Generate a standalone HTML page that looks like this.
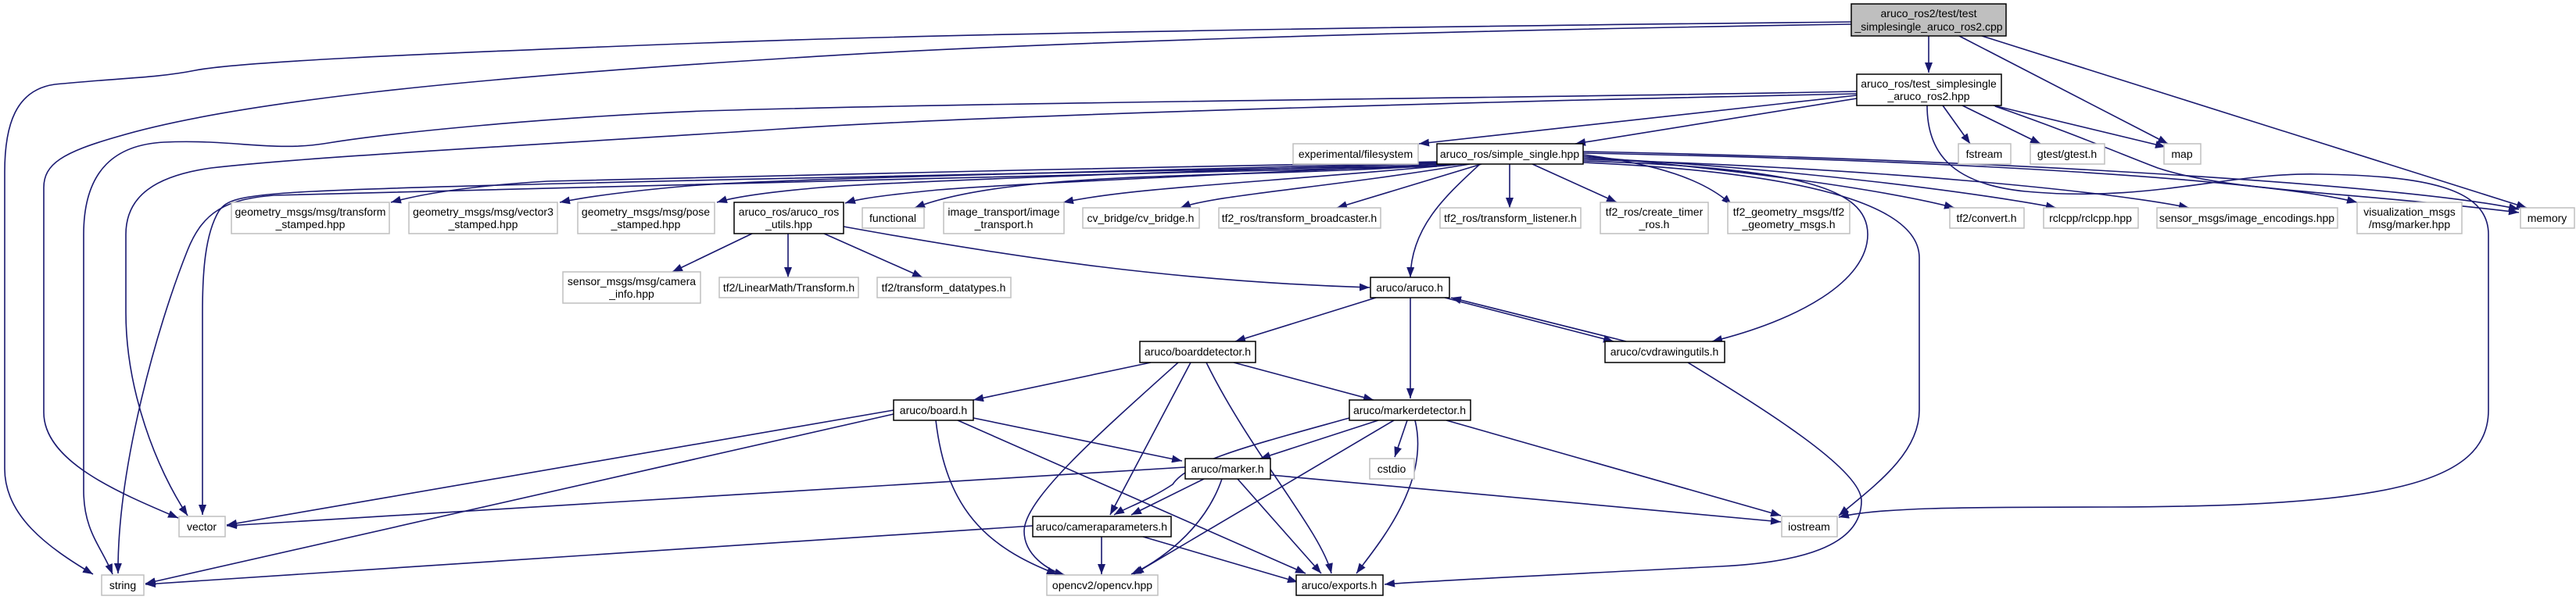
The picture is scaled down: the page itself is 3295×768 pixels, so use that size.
<!DOCTYPE html>
<html><head><meta charset="utf-8"><style>
html,body{margin:0;padding:0;background:#fff;}
svg{display:block;}
text{font-family:"Liberation Sans",Arial,sans-serif;font-size:14px;fill:#000;}
.e{fill:none;stroke:#191970;stroke-width:1.6;marker-end:url(#ah);}
.nb{fill:#fff;stroke:#000;stroke-width:1.5;}
.ng{fill:#fff;stroke:#bfbfbf;stroke-width:1.5;}
</style></head><body>
<svg width="3295" height="768" viewBox="0 0 3295 768" xmlns="http://www.w3.org/2000/svg">
<defs><marker id="ah" markerUnits="userSpaceOnUse" markerWidth="14" markerHeight="10" refX="13" refY="5" orient="auto"><path d="M0,0 L13,5 L0,10 z" fill="#191970"/></marker></defs>
<g>
<path class="e" d="M2467,46 L2467,93"/>
<path class="e" d="M2506,46 L2773,184"/>
<path class="e" d="M2535,46 L3232,266"/>
<path class="e" d="M2368,28 C2000,32 1300,40 900,55 C500,70 300,80 250,90 C200,100 150,100 70,108 C20,115 6,160 6,220 L6,600 C6,660 60,700 119,735"/>
<path class="e" d="M2368,31 C1800,40 1300,55 1000,75 C600,100 300,130 150,175 C80,195 56,210 56,240 L56,528 C56,590 150,630 228,663"/>
<path class="e" d="M2485,135 L2520,184"/>
<path class="e" d="M2510,135 L2610,184"/>
<path class="e" d="M2550,135 L2770,188"/>
<path class="e" d="M2552,136 C2650,170 2720,200 2760,215 C2850,245 3000,245 3222,272"/>
<path class="e" d="M2465,135 C2465,190 2490,235 2591,245 C2750,260 2850,220 2968,223 C3100,225 3183,240 3183,300 L3183,525 C3183,620 3050,648 2700,649 C2500,649 2400,650 2352,662"/>
<path class="e" d="M2375,126 L2015,184"/>
<path class="e" d="M2375,122 L1815,184"/>
<path class="e" d="M2375,117 C2000,125 1300,130 900,142 C700,150 500,170 420,183 C350,195 300,178 210,182 C150,185 107,215 107,300 L107,628 C107,680 130,700 144,735"/>
<path class="e" d="M2375,120 C2000,128 1300,145 1000,165 C700,185 400,200 270,215 C200,225 161,250 161,300 L161,400 C161,500 200,600 240,660"/>
<path class="e" d="M1838,207 C1500,215 1000,222 700,232 C600,238 540,248 500,259"/>
<path class="e" d="M1838,208 C1500,218 1000,228 880,238 C800,245 750,252 716,259"/>
<path class="e" d="M1840,209 C1500,220 1150,232 1050,240 C980,246 940,252 917,259"/>
<path class="e" d="M1842,210 C1600,222 1300,235 1200,243 C1130,250 1100,254 1081,260"/>
<path class="e" d="M1860,210 C1600,230 1300,215 1170,266"/>
<path class="e" d="M1870,210 C1600,235 1450,240 1360,259"/>
<path class="e" d="M1880,210 C1700,240 1550,250 1510,266"/>
<path class="e" d="M1895,210 L1710,266"/>
<path class="e" d="M1931,210 L1931,266"/>
<path class="e" d="M1960,210 L2068,259"/>
<path class="e" d="M1893,210 C1850,250 1805,290 1804,355"/>
<path class="e" d="M2025,198 C2120,210 2180,230 2215,262"/>
<path class="e" d="M2025,200 C2200,215 2400,240 2500,266"/>
<path class="e" d="M2025,202 C2300,215 2550,250 2630,266"/>
<path class="e" d="M2025,204 C2400,215 2700,245 2800,266"/>
<path class="e" d="M2025,196 C2500,205 2900,230 3015,259"/>
<path class="e" d="M2025,194 C2600,205 3100,240 3222,268"/>
<path class="e" d="M2025,206 C2300,215 2389,240 2389,300 C2389,360 2300,410 2190,437"/>
<path class="e" d="M2025,208 C2300,220 2455,260 2455,330 L2455,525 C2455,580 2400,620 2352,660"/>
<path class="e" d="M1838,212 C1400,220 600,235 400,245 C300,250 290,257 280,270 C262,300 259,350 259,400 L259,659"/>
<path class="e" d="M1838,213 C1400,225 600,240 350,250 C290,255 260,270 240,320 C200,420 150,600 151,734"/>
<path class="e" d="M962,299 L860,348"/>
<path class="e" d="M1008,299 L1008,355"/>
<path class="e" d="M1054,299 L1180,355"/>
<path class="e" d="M1079,290 C1300,330 1500,360 1752,368"/>
<path class="e" d="M1760,381 L1580,437"/>
<path class="e" d="M1804,381 L1804,510"/>
<path class="e" d="M1848,381 L2064,437"/>
<path class="e" d="M2080,437 L1856,381"/>
<path class="e" d="M2159,464 C2250,520 2381,600 2381,641 C2381,700 2300,720 2200,725 C2000,735 1800,745 1771,748"/>
<path class="e" d="M1472,464 L1245,512"/>
<path class="e" d="M1578,464 L1757,512"/>
<path class="e" d="M1507,464 C1400,560 1310,640 1310,680 C1310,710 1340,730 1362,736"/>
<path class="e" d="M1523,464 L1420,659"/>
<path class="e" d="M1543,464 C1600,580 1690,680 1703,734"/>
<path class="e" d="M1143,525 L290,672"/>
<path class="e" d="M1143,530 L186,747"/>
<path class="e" d="M1245,535 L1512,590"/>
<path class="e" d="M1197,538 C1210,650 1260,700 1352,735"/>
<path class="e" d="M1225,538 L1670,734"/>
<path class="e" d="M1726,535 C1600,570 1520,590 1500,620 C1470,640 1440,650 1425,659"/>
<path class="e" d="M1763,538 L1612,587"/>
<path class="e" d="M1783,538 L1450,735"/>
<path class="e" d="M1800,538 L1784,585"/>
<path class="e" d="M1810,538 C1830,620 1760,700 1735,734"/>
<path class="e" d="M1850,538 L2278,660"/>
<path class="e" d="M1516,598 L290,673"/>
<path class="e" d="M1540,613 L1447,659"/>
<path class="e" d="M1563,613 C1540,680 1480,720 1447,735"/>
<path class="e" d="M1583,613 L1690,734"/>
<path class="e" d="M1625,608 L2278,668"/>
<path class="e" d="M1321,673 L186,748"/>
<path class="e" d="M1409,687 L1409,735"/>
<path class="e" d="M1462,687 L1660,745"/>
</g>
<g text-anchor="middle">
<rect x="2368" y="5" width="198" height="41" fill="#bfbfbf" stroke="#000" stroke-width="1.5"/>
<text x="2467" y="22">aruco_ros2/test/test</text><text x="2467" y="39">_simplesingle_aruco_ros2.cpp</text>
<rect class="nb" x="2375" y="95" width="185" height="40"/>
<text x="2467" y="112">aruco_ros/test_simplesingle</text><text x="2467" y="128">_aruco_ros2.hpp</text>
<rect class="ng" x="2505" y="184" width="67" height="26"/><text x="2538" y="202">fstream</text>
<rect class="ng" x="2597" y="184" width="95" height="26"/><text x="2644" y="202">gtest/gtest.h</text>
<rect class="ng" x="2768" y="184" width="47" height="26"/><text x="2791" y="202">map</text>
<rect class="ng" x="1654" y="184" width="160" height="26"/><text x="1734" y="202">experimental/filesystem</text>
<rect class="nb" x="1838" y="184" width="187" height="26"/><text x="1931" y="202">aruco_ros/simple_single.hpp</text>
<rect class="ng" x="296" y="259" width="202" height="40"/><text x="397" y="276">geometry_msgs/msg/transform</text><text x="397" y="292">_stamped.hpp</text>
<rect class="ng" x="523" y="259" width="190" height="40"/><text x="618" y="276">geometry_msgs/msg/vector3</text><text x="618" y="292">_stamped.hpp</text>
<rect class="ng" x="739" y="259" width="175" height="40"/><text x="826" y="276">geometry_msgs/msg/pose</text><text x="826" y="292">_stamped.hpp</text>
<rect class="nb" x="939" y="259" width="140" height="40"/><text x="1009" y="276">aruco_ros/aruco_ros</text><text x="1009" y="292">_utils.hpp</text>
<rect class="ng" x="1103" y="266" width="79" height="26"/><text x="1142" y="284">functional</text>
<rect class="ng" x="1207" y="259" width="154" height="40"/><text x="1284" y="276">image_transport/image</text><text x="1284" y="292">_transport.h</text>
<rect class="ng" x="1385" y="266" width="149" height="26"/><text x="1459" y="284">cv_bridge/cv_bridge.h</text>
<rect class="ng" x="1559" y="266" width="207" height="26"/><text x="1662" y="284">tf2_ros/transform_broadcaster.h</text>
<rect class="ng" x="1842" y="266" width="180" height="26"/><text x="1932" y="284">tf2_ros/transform_listener.h</text>
<rect class="ng" x="2047" y="259" width="138" height="40"/><text x="2116" y="276">tf2_ros/create_timer</text><text x="2116" y="292">_ros.h</text>
<rect class="ng" x="2210" y="259" width="156" height="40"/><text x="2288" y="276">tf2_geometry_msgs/tf2</text><text x="2288" y="292">_geometry_msgs.h</text>
<rect class="ng" x="2494" y="266" width="95" height="26"/><text x="2541" y="284">tf2/convert.h</text>
<rect class="ng" x="2614" y="266" width="121" height="26"/><text x="2674" y="284">rclcpp/rclcpp.hpp</text>
<rect class="ng" x="2759" y="266" width="231" height="26"/><text x="2874" y="284">sensor_msgs/image_encodings.hpp</text>
<rect class="ng" x="3015" y="259" width="134" height="40"/><text x="3082" y="276">visualization_msgs</text><text x="3082" y="292">/msg/marker.hpp</text>
<rect class="ng" x="3224" y="266" width="69" height="26"/><text x="3258" y="284">memory</text>
<rect class="ng" x="720" y="348" width="176" height="40"/><text x="808" y="365">sensor_msgs/msg/camera</text><text x="808" y="381">_info.hpp</text>
<rect class="ng" x="920" y="355" width="178" height="26"/><text x="1009" y="373">tf2/LinearMath/Transform.h</text>
<rect class="ng" x="1122" y="355" width="171" height="26"/><text x="1207" y="373">tf2/transform_datatypes.h</text>
<rect class="nb" x="1753" y="355" width="101" height="26"/><text x="1803" y="373">aruco/aruco.h</text>
<rect class="nb" x="1458" y="437" width="148" height="27"/><text x="1532" y="455">aruco/boarddetector.h</text>
<rect class="nb" x="2053" y="437" width="153" height="27"/><text x="2129" y="455">aruco/cvdrawingutils.h</text>
<rect class="nb" x="1143" y="512" width="102" height="26"/><text x="1194" y="530">aruco/board.h</text>
<rect class="nb" x="1726" y="512" width="155" height="26"/><text x="1803" y="530">aruco/markerdetector.h</text>
<rect class="nb" x="1516" y="587" width="109" height="26"/><text x="1570" y="605">aruco/marker.h</text>
<rect class="ng" x="1752" y="587" width="57" height="26"/><text x="1780" y="605">cstdio</text>
<rect class="nb" x="1321" y="661" width="177" height="26"/><text x="1409" y="679">aruco/cameraparameters.h</text>
<rect class="ng" x="229" y="661" width="59" height="26"/><text x="258" y="679">vector</text>
<rect class="ng" x="2279" y="661" width="71" height="26"/><text x="2314" y="679">iostream</text>
<rect class="ng" x="130" y="736" width="54" height="26"/><text x="157" y="754">string</text>
<rect class="ng" x="1339" y="736" width="142" height="26"/><text x="1410" y="754">opencv2/opencv.hpp</text>
<rect class="nb" x="1658" y="736" width="111" height="26"/><text x="1713" y="754">aruco/exports.h</text>
</g>
</svg>
</body></html>
